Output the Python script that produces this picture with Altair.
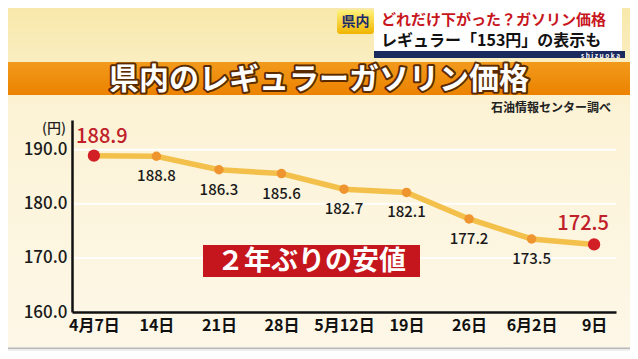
import altair as alt
import pandas as pd

dates = ["4月7日", "14日", "21日", "28日", "5月12日", "19日", "26日", "6月2日", "9日"]
prices = [188.9, 188.8, 186.3, 185.6, 182.7, 182.1, 177.2, 173.5, 172.5]
y_ticks = [160, 170, 180, 190]
grid_vals = [170, 180, 190]

title_text = "県内のレギュラーガソリン価格"
source_text = "石油情報センター調べ"
unit_text = "(円)"
badge_text = "２年ぶりの安値"
cap_tag = "県内"
cap_line1 = "どれだけ下がった？ガソリン価格"
cap_line2 = "レギュラー「153円」の表示も"
cap_brand = "s h i z u o k a"

FONT = "Noto Sans CJK JP"

df = pd.DataFrame({"date": dates, "price": prices, "idx": list(range(len(dates)))})
one = alt.Data(values=[{"a": 1}])

yscale = alt.Scale(domain=[160, 195.5], nice=False, zero=False)
yaxis = alt.Axis(title=None, values=y_ticks, format=".1f", ticks=False,
                 labelFontSize=17, labelFontWeight=500, labelColor="#1a1a1a",
                 labelPadding=5, domainColor="#111111", domainWidth=2.5,
                 grid=False, zindex=1)
xenc = alt.X("date:N", sort=dates, scale=alt.Scale(type="point", padding=0.35),
             axis=alt.Axis(title=None, labelAngle=0, ticks=False, labelFontSize=16,
                           labelFontWeight="bold", labelColor="#111111", labelPadding=5,
                           domainColor="#111111", domainWidth=2.5, grid=False, zindex=1))
yenc = alt.Y("price:Q", scale=yscale, axis=yaxis)

def box(x1, x2, y1, y2, color):
    return alt.Chart(one).mark_rect(color=color).encode(
        x=alt.value(x1), x2=alt.value(x2), y=alt.value(y1), y2=alt.value(y2))

def label(txt, x, y, **kw):
    return alt.Chart(one).mark_text(text=txt, **kw).encode(x=alt.value(x), y=alt.value(y))

bg = alt.Chart(one).mark_rect(color=alt.Gradient(
    gradient="linear", x1=0, x2=0, y1=0, y2=1,
    stops=[alt.GradientStop(color="#f8e8aa", offset=0),
           alt.GradientStop(color="#fcf3d6", offset=0.3),
           alt.GradientStop(color="#fdf7e8", offset=1)])).encode(
    x=alt.value(-64), x2=alt.value(558), y=alt.value(-112), y2=alt.value(231))

grid = alt.Chart(pd.DataFrame({"g": grid_vals})).mark_rule(
    color="#ffffff", strokeWidth=2, opacity=0.9).encode(
    y=alt.Y("g:Q", scale=yscale, axis=yaxis),
    x=alt.value(0), x2=alt.value(544))

banner = alt.Chart(one).mark_rect(color=alt.Gradient(
    gradient="linear", x1=0, x2=0, y1=0, y2=1,
    stops=[alt.GradientStop(color="#f29a1c", offset=0),
           alt.GradientStop(color="#ec8200", offset=1)])).encode(
    x=alt.value(-64), x2=alt.value(558), y=alt.value(-58), y2=alt.value(-25))
banner_outline = label(title_text, 247, -40, font=FONT, fontSize=30, fontWeight="bold",
                       color="#ffffff", stroke="#5a2a00", strokeWidth=4,
                       strokeJoin="round", align="center", baseline="middle")
banner_text = label(title_text, 247, -40, font=FONT, fontSize=30, fontWeight="bold",
                    color="#ffffff", align="center", baseline="middle")

cap_white = box(302, 550, -113, -69, "#ffffff")
cap_tag_box = alt.Chart(one).mark_rect(cornerRadius=3, color=alt.Gradient(
    gradient="linear", x1=0, x2=0, y1=0, y2=1,
    stops=[alt.GradientStop(color="#fff27a", offset=0),
           alt.GradientStop(color="#f0b400", offset=1)])).encode(
    x=alt.value(265), x2=alt.value(302), y=alt.value(-110), y2=alt.value(-86))
cap_tag_text = label(cap_tag, 283.5, -98, font=FONT, fontSize=14, fontWeight="bold",
                     color="#1b2a6b", align="center", baseline="middle")
cap_l1 = label(cap_line1, 309, -100.5, font=FONT, fontSize=15, fontWeight="bold",
               color="#c8161d", align="left", baseline="middle")
cap_l2 = label(cap_line2, 309, -79.5, font=FONT, fontSize=16, fontWeight="bold",
               color="#111111", align="left", baseline="middle")
cap_strip = box(302, 553, -69, -62, "#1b2a5e")
cap_brand_t = label(cap_brand, 548, -64.5, font=FONT, fontSize=6.5, fontWeight="bold",
                    color="#ffffff", align="right", baseline="middle")

source = label(source_text, 539, -12, font=FONT, fontSize=12, fontWeight="bold",
               color="#222222", align="right", baseline="middle")
unit = label(unit_text, -18, 9, font=FONT, fontSize=14, fontWeight=500,
             color="#222222", align="center", baseline="middle")

badge = box(131, 348, 125, 157, "#c4161c")
badge_t = label(badge_text, 239.5, 142, font=FONT, fontSize=27, fontWeight="bold",
                color="#ffffff", align="center", baseline="middle")

bottom_line = box(-64, 558, 227.5, 229, "#b8b8b8")
bottom_fill = box(-64, 558, 229, 231, "#eeeeee")

base = alt.Chart(df).encode(x=xenc, y=yenc)
line = base.mark_line(color="#f3c14b", strokeWidth=5.5, strokeCap="round")
pts = base.mark_point(filled=True, size=90, color="#ef9530", opacity=1).transform_filter(
    "datum.idx > 0 && datum.idx < 8")
ends = base.mark_point(filled=True, size=150, color="#d21f26", opacity=1).transform_filter(
    "datum.idx == 0 || datum.idx == 8")
mid_labels = base.mark_text(font=FONT, fontSize=15, fontWeight=500, color="#1a1a1a",
                            dy=20, baseline="middle").encode(
    text=alt.Text("price:Q", format=".1f")).transform_filter("datum.idx > 0 && datum.idx < 8")
first_label = base.mark_text(font=FONT, fontSize=20, fontWeight=500, color="#c0202a",
                             dx=8, dy=-19, baseline="middle").encode(
    text=alt.Text("price:Q", format=".1f")).transform_filter("datum.idx == 0")
last_label = base.mark_text(font=FONT, fontSize=20, fontWeight=500, color="#c0202a",
                            dx=-11, dy=-20, baseline="middle").encode(
    text=alt.Text("price:Q", format=".1f")).transform_filter("datum.idx == 8")

chart = alt.layer(
    bg, grid, bottom_line, bottom_fill, banner, banner_outline, banner_text,
    cap_white, cap_tag_box, cap_tag_text, cap_l1, cap_l2, cap_strip, cap_brand_t,
    source, unit, badge, badge_t,
    line, pts, ends, mid_labels, first_label, last_label
).properties(
    width=544, height=192,
    autosize=alt.AutoSizeParams(type="none"),
    padding={"left": 64, "top": 112, "right": 14, "bottom": 39},
    background="#fdf7e6",
).configure_view(stroke=None).configure(font=FONT)

chart.save("out.html", embed_options={"renderer": "svg", "actions": False})
